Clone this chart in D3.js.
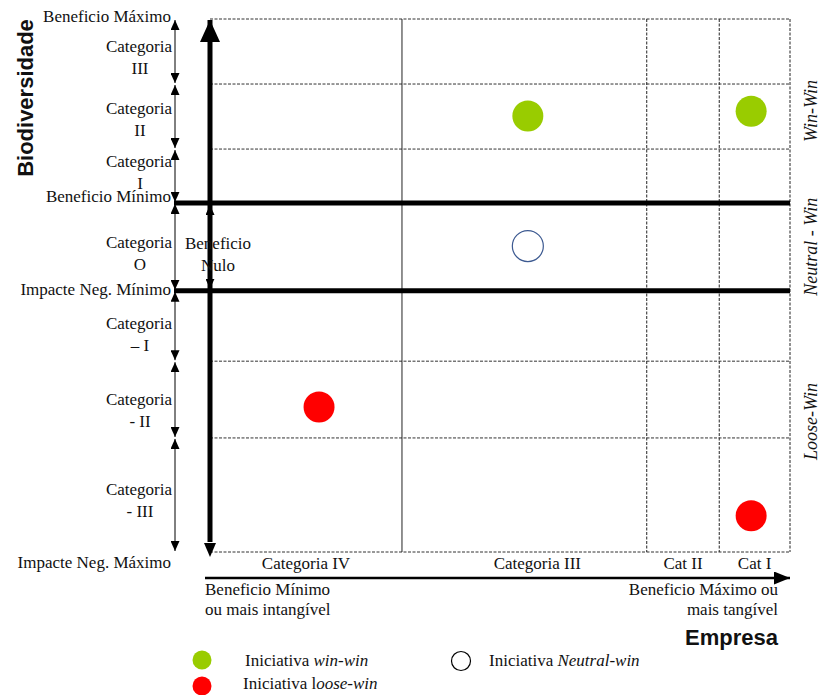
<!DOCTYPE html>
<html><head><meta charset="utf-8">
<script src="https://cdn.jsdelivr.net/npm/d3@7"></script>
<style>
body{margin:0;background:#fff;}
text{font-family:"Liberation Serif","Times New Roman",serif;fill:#111;}
.bold{font-family:"Liberation Sans",Arial,sans-serif;font-weight:bold;}
</style></head>
<body>
<svg id="c" width="820" height="695"></svg>
<script>
// ---- data ----
const yLevels = [100, 87.8, 75.6, 65.5, 49.0, 35.8, 21.4, 0];          // category boundaries (biodiversity)
const yLevelLabels = ["Beneficio Máximo", "", "", "Beneficio Mínimo", "Impacte Neg. Mínimo", "", "", "Impacte Neg. Máximo"];
const yCategories = [["Categoria","III"],["Categoria","II"],["Categoria","I"],["Categoria","O"],["Categoria","– I"],["Categoria","- II"],["Categoria","- III"]];
const xLevels = [0, 33.1, 75.3, 87.8, 100];                              // category boundaries (empresa)
const xCategories = ["Categoria IV", "Categoria III", "Cat II", "Cat I"];
const zones = [{label:"Win-Win", from:65.5, to:100}, {label:"Neutral - Win", from:49.0, to:65.5}, {label:"Loose-Win", from:0, to:49.0}];
const pointsX = [54.8, 93.3, 54.8, 18.8, 93.3];
const pointsY = [81.8, 82.7, 57.4, 27.2, 6.8];
const pointsType = ["win", "win", "neutral", "loose", "loose"];
const legendItems = [{type:"win", pre:"Iniciativa ", it:"win-win"}, {type:"loose", pre:"Iniciativa l", it:"oose-win"}, {type:"neutral", pre:"Iniciativa ", it:"Neutral-win"}];

// ---- layout ----
const FS = 17;
const catDy = [0, -3, -8.5, 1.5, 2.5, 5, 0.5];       // vertical nudges of left category labels
const levelDy = [3, 0, 0, -1, 4, 0, 0, 16];           // nudges of left level labels
const xCatDx = [0, 13, 0, 0];                          // nudges of bottom category labels
const colors = {win:"#99cc00", loose:"#ff0000", neutral:"#ffffff"};
const svg = d3.select("#c");
const x = d3.scaleLinear().domain([0,100]).range([210,790]);
const y = d3.scaleLinear().domain([0,100]).range([552,19]);

const defs = svg.append("defs");
function marker(id, w, h){
  defs.append("marker").attr("id",id).attr("viewBox",`0 0 ${h} ${w}`)
    .attr("refX",h).attr("refY",w/2).attr("markerWidth",h).attr("markerHeight",w)
    .attr("markerUnits","userSpaceOnUse").attr("orient","auto-start-reverse")
    .append("path").attr("d",`M0,0L${h},${w/2}L0,${w}Z`).attr("fill","#000");
}
marker("sm", 9, 10);
marker("big", 20, 22);
marker("bigE", 13, 16);

// grid dashed horizontal
const dashedY = yLevels.filter((v,i)=> i!==3 && i!==4);
svg.selectAll(".hg").data(dashedY).join("line")
  .attr("x1",x(0)).attr("x2",x(100)).attr("y1",d=>y(d)).attr("y2",d=>y(d))
  .attr("stroke","#333").attr("stroke-width",1).attr("stroke-dasharray","3,1.5");
// vertical grid
svg.selectAll(".vg").data(xLevels.slice(1)).join("line")
  .attr("x1",d=>x(d)).attr("x2",d=>x(d)).attr("y1",y(100)).attr("y2",y(0))
  .attr("stroke","#222").attr("stroke-width",1)
  .attr("stroke-dasharray",(d,i)=> i===0 ? null : "3,1.5");

// thick horizontal lines
svg.selectAll(".th").data([yLevels[3], yLevels[4]]).join("line")
  .attr("x1",174).attr("x2",x(100)).attr("y1",d=>y(d)).attr("y2",d=>y(d))
  .attr("stroke","#000").attr("stroke-width",5);

// left double arrows
const segs = d3.range(yLevels.length-1).map(i=>[yLevels[i], yLevels[i+1]]);
svg.selectAll(".la").data(segs).join("line")
  .attr("x1",175).attr("x2",175).attr("y1",d=>y(d[0])+1).attr("y2",d=>y(d[1])-1)
  .attr("stroke","#000").attr("stroke-width",1)
  .attr("marker-start","url(#sm)").attr("marker-end","url(#sm)");

// main vertical thick axis
svg.append("line").attr("x1",x(0)).attr("x2",x(0)).attr("y1",y(0)-10).attr("y2",y(100)+1)
  .attr("stroke","#000").attr("stroke-width",5).attr("marker-end","url(#big)");
svg.append("path").attr("d",`M${x(0)-6},${y(0)-9}L${x(0)},${y(0)+5}L${x(0)+6},${y(0)-9}Z`).attr("fill","#000");
// Beneficio Nulo arrow on the axis
svg.append("line").attr("x1",x(0)).attr("x2",x(0)).attr("y1",y(yLevels[3])+2).attr("y2",y(yLevels[4])-2)
  .attr("stroke","#000").attr("stroke-width",1)
  .attr("marker-start","url(#sm)").attr("marker-end","url(#sm)");

// bottom x arrow
svg.append("line").attr("x1",205).attr("x2",790).attr("y1",578).attr("y2",578)
  .attr("stroke","#000").attr("stroke-width",2.5).attr("marker-end","url(#bigE)");

// left level labels
svg.selectAll(".ll").data(yLevels.map((v,i)=>({v,t:yLevelLabels[i],dy:levelDy[i]})).filter(d=>d.t)).join("text")
  .attr("x",171).attr("y",d=> y(d.v) + d.dy)
  .attr("text-anchor","end").attr("font-size",FS).text(d=>d.t);

// left category labels
svg.selectAll(".lc").data(segs).join("text")
  .attr("y",(d,i)=>(y(d[0])+y(d[1]))/2 + catDy[i])
  .attr("text-anchor","middle").attr("font-size",FS)
  .each(function(d,i){
    const t=d3.select(this);
    t.append("tspan").attr("x",139).attr("dy",0).text(yCategories[i][0]);
    t.append("tspan").attr("x",140).attr("dy",22).text(yCategories[i][1]);
  });

// Beneficio Nulo
const bn = svg.append("text").attr("y",(y(yLevels[3])+y(yLevels[4]))/2 + 2).attr("text-anchor","middle").attr("font-size",FS);
bn.append("tspan").attr("x",218).text("Beneficio");
bn.append("tspan").attr("x",218).attr("dy",22).text("Nulo");

// Biodiversidade
svg.append("text").attr("class","bold").attr("transform",`translate(33,98) rotate(-90)`)
  .attr("text-anchor","middle").attr("font-size",22).text("Biodiversidade");

// x category labels
svg.selectAll(".xc").data(xCategories).join("text")
  .attr("x",(d,i)=>(x(xLevels[i])+x(xLevels[i+1]))/2 + xCatDx[i]).attr("y",569)
  .attr("text-anchor","middle").attr("font-size",FS).text(d=>d);

// bottom descriptions
const bl = svg.append("text").attr("y",595).attr("font-size",FS);
bl.append("tspan").attr("x",205).text("Beneficio Mínimo");
bl.append("tspan").attr("x",205).attr("dy",20).text("ou mais intangível");
const br = svg.append("text").attr("y",595).attr("font-size",FS).attr("text-anchor","end");
br.append("tspan").attr("x",778).text("Beneficio Máximo ou");
br.append("tspan").attr("x",778).attr("dy",20).text("mais tangível");
svg.append("text").attr("class","bold").attr("x",778).attr("y",645).attr("text-anchor","end").attr("font-size",22).text("Empresa");

// right zone labels
svg.selectAll(".zn").data(zones).join("text")
  .attr("transform",d=>`translate(817,${(y(d.from)+y(d.to))/2}) rotate(-90)`)
  .attr("text-anchor","middle").attr("font-size",18).attr("font-style","italic").text(d=>d.label);

// points
svg.selectAll(".pt").data(pointsX.map((v,i)=>({x:v,y:pointsY[i],t:pointsType[i]}))).join("circle")
  .attr("cx",d=>x(d.x)).attr("cy",d=>y(d.y)).attr("r",15.5)
  .attr("fill",d=>colors[d.t])
  .attr("stroke",d=>d.t==="neutral" ? "#3d5a91" : "none").attr("stroke-width",1.2);

// legend
const legPos = [[202,660,245,666],[202,686,243,689],[461,661,489,666]];
legendItems.forEach((d,i)=>{
  const p=legPos[i];
  svg.append("circle").attr("cx",p[0]).attr("cy",p[1]).attr("r",9.5)
    .attr("fill",colors[d.type]).attr("stroke",d.type==="neutral"?"#000":"none").attr("stroke-width",1.2);
  const t=svg.append("text").attr("x",p[2]).attr("y",p[3]).attr("font-size",FS);
  t.append("tspan").text(d.pre);
  t.append("tspan").attr("font-style","italic").text(d.it);
});
</script>
</body></html>
